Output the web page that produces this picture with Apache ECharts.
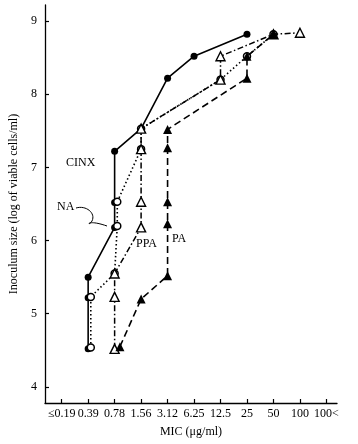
<!DOCTYPE html>
<html><head><meta charset="utf-8">
<script src="https://cdn.jsdelivr.net/npm/echarts@6/dist/echarts.min.js"></script>
<style>html,body{margin:0;padding:0;background:#fff}#c{width:358px;height:444px}</style>
</head><body><div id="c"></div>
<script>
// MIC categories (x index = position in this list)
const micLabels = ['≤0.19','0.39','0.78','1.56','3.12','6.25','12.5','25','50','100','100<'];
const yTicks = [4,5,6,7,8,9];
// [MIC index, log viable cells/ml]
const cinx = [[1,4.52],[1,5.22],[1,5.5],[2,6.18],[2,6.52],[2,7.22],[3,7.53],[4,8.22],[5,8.52],[7,8.82]];
const na   = [[1.1,4.54],[1.1,5.23],[2,5.55],[2.1,6.2],[2.1,6.53],[3,7.25],[3,7.53],[6,8.2],[7,8.52],[8,8.82]];
const ppa  = [[2,4.52],[2,5.23],[2,5.55],[3,6.18],[3,6.53],[3,7.25],[3,7.53],[6,8.2],[6,8.52],[8,8.82],[9,8.84]];
const pa   = [[2.2,4.55],[3,5.2],[4,5.52],[4,6.23],[4,6.53],[4,7.27],[4,7.52],[7,8.22],[7,8.52],[8,8.82]];

const serif = '"Liberation Serif","DejaVu Serif",serif';
const chart = echarts.init(document.getElementById('c'), null, {renderer:'canvas'});
const ticksX = micLabels.map((_, i) => i);
chart.setOption({
  animation:false,
  backgroundColor:'#fff',
  grid:{left:38,right:21,top:5,bottom:41},
  xAxis:{
    type:'value', min:-0.63, max:10.4,
    name:'MIC (μg/ml)', nameLocation:'middle', nameGap:23,
    nameTextStyle:{color:'#000',fontFamily:serif,fontSize:12},
    axisLine:{show:true,onZero:false,lineStyle:{color:'#000',width:1.3}},
    axisTick:{show:true,inside:true,length:4,customValues:ticksX,lineStyle:{color:'#000',width:1.2}},
    axisLabel:{customValues:ticksX,formatter:v=>micLabels[Math.round(v)],color:'#000',fontFamily:serif,fontSize:12,margin:5},
    splitLine:{show:false}
  },
  yAxis:{
    type:'value', min:3.78, max:9.22,
    name:'Inoculum size (log of viable cells/ml)', nameLocation:'middle', nameGap:25, nameRotate:90,
    nameTextStyle:{color:'#000',fontFamily:serif,fontSize:12},
    axisLine:{show:true,onZero:false,lineStyle:{color:'#000',width:1.3}},
    axisTick:{show:true,inside:true,length:4,customValues:yTicks,lineStyle:{color:'#000',width:1.2}},
    axisLabel:{customValues:yTicks,color:'#000',fontFamily:serif,fontSize:12,margin:8},
    splitLine:{show:false}
  },
  series:[
    {name:'CINX',type:'line',data:cinx,symbol:'circle',symbolSize:7,
     itemStyle:{color:'#000'},lineStyle:{color:'#000',width:1.6},z:3},
    {name:'NA',type:'line',data:na,symbol:'circle',symbolSize:7,
     itemStyle:{color:'#fff',borderColor:'#000',borderWidth:1.5},lineStyle:{color:'#000',width:1.6,type:[1.5,2.5]},z:4},
    {name:'PPA',type:'line',data:ppa,symbol:'triangle',symbolSize:9,
     itemStyle:{color:'#fff',borderColor:'#000',borderWidth:1.4},lineStyle:{color:'#000',width:1.5,type:[6,2.5,1.5,2.5]},z:5},
    {name:'PA',type:'line',data:pa,symbol:'triangle',symbolSize:9,
     itemStyle:{color:'#000'},lineStyle:{color:'#000',width:1.6,type:[7,4]},z:6}
  ],
  graphic:[
    {type:'text',left:66,top:157,style:{text:'CINX',fill:'#000',font:'12px '+serif}},
    {type:'text',left:57,top:201,style:{text:'NA',fill:'#000',font:'12px '+serif}},
    {type:'text',left:136,top:238,style:{text:'PPA',fill:'#000',font:'12px '+serif}},
    {type:'text',left:172,top:233,style:{text:'PA',fill:'#000',font:'12px '+serif}},
    {type:'bezierCurve',shape:{x1:76,y1:208,cpx1:86,cpy1:205,cpx2:96,cpy2:213,x2:92,y2:221},style:{stroke:'#000',lineWidth:1,fill:null}},
    {type:'bezierCurve',shape:{x1:92,y1:221,cpx1:88,cpy1:228,cpx2:84,cpy2:218,x2:107,y2:226},style:{stroke:'#000',lineWidth:1,fill:null}}
  ]
});
</script></body></html>
